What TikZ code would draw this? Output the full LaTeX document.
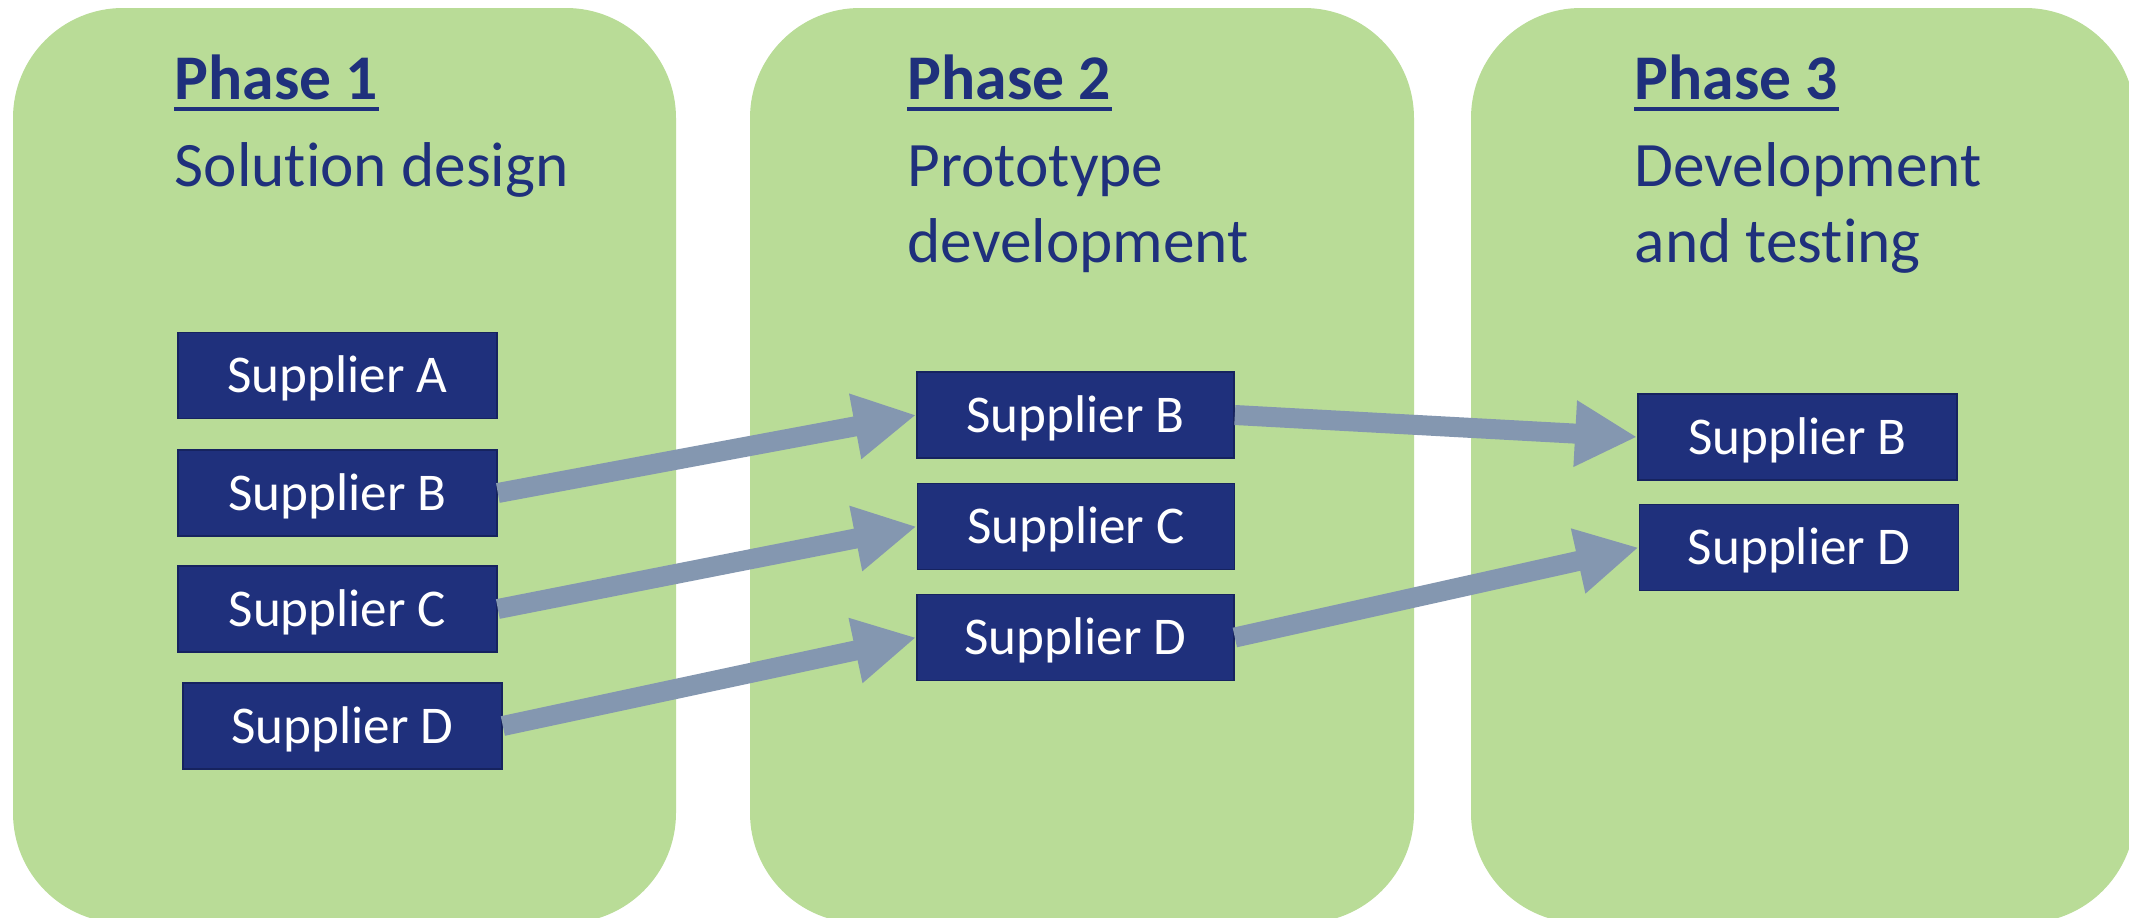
\documentclass[tikz,border=0pt]{standalone}
\usepackage{fontspec}
\setmainfont{Carlito}[Ligatures=NoCommon]
\usetikzlibrary{arrows.meta}
\definecolor{panelgreen}{RGB}{185,220,151}
\definecolor{navy}{RGB}{31,48,124}
\definecolor{navyedge}{RGB}{22,35,95}
\definecolor{arrowgrey}{RGB}{132,151,176}

\begin{document}
\begin{tikzpicture}[x=0.01cm,y=-0.01cm,
  panel/.style={fill=panelgreen, rounded corners=1.1cm},
  title/.style={anchor=base west, inner sep=0pt, text=navy, font=\fontsize{18.1}{22}\selectfont\bfseries},
  body/.style={anchor=base west, inner sep=0pt, text=navy, font=\fontsize{18}{22}\selectfont},
  supplier/.style={fill=navy, draw=navyedge, line width=0.015cm, text=white,
    minimum height=0.86cm, minimum width=3.19cm, inner sep=0pt,
    font=\fontsize{15.1}{18}\selectfont, text height=0.34cm, text depth=0pt},
  flow/.style={draw=arrowgrey, line width=0.2cm, -{Triangle[length=0.62cm,width=0.62cm]}, fill=arrowgrey},
  uline/.style={navy, line width=0.035cm}
]
\path[use as bounding box] (0,0) rectangle (2129,918);
\clip (0,0) rectangle (2129,918);
\fill[white] (0,0) rectangle (2129,918);

% phase panels
\fill[panel] (13,8) rectangle (676,923);
\fill[panel] (750,8) rectangle (1414,923);
\fill[panel] (1471,8) rectangle (2135,923);

% headings
\node[title] (t1) at (174,100) {Phase 1};
\draw[uline] ([yshift=-0.09cm]t1.base west) -- ([yshift=-0.09cm]t1.base east);
\node[body] (t1a) at (174,186) {Solution design};

\node[title] (t2) at (907,100) {Phase 2};
\draw[uline] ([yshift=-0.09cm]t2.base west) -- ([yshift=-0.09cm]t2.base east);
\node[body] (t2a) at (907,186) {Prototype};
\node[body] (t2b) at (907,262) {development};

\node[title] (t3) at (1634,100) {Phase 3};
\draw[uline] ([yshift=-0.09cm]t3.base west) -- ([yshift=-0.09cm]t3.base east);
\node[body] (t3a) at (1634,186) {Development};
\node[body] (t3b) at (1634,262) {and testing};

% suppliers per phase
\node[supplier] (a1) at (337.5,375.5) {Supplier A};
\node[supplier] (b1) at (337.5,493) {Supplier B};
\node[supplier] (c1) at (337.5,609) {Supplier C};
\node[supplier] (d1) at (342.5,726) {Supplier D};

\node[supplier, minimum width=3.17cm] (b2) at (1075.5,415) {Supplier B};
\node[supplier, minimum width=3.17cm] (c2) at (1076,526.5) {Supplier C};
\node[supplier, minimum width=3.17cm] (d2) at (1075.5,637.5) {Supplier D};

\node[supplier] (b3) at (1797.5,437) {Supplier B};
\node[supplier] (d3) at (1799,547.5) {Supplier D};

% transitions between phases
\draw[flow] (b1.east) -- (b2.west);
\draw[flow] (c1.east) -- (c2.west);
\draw[flow] (d1.east) -- (d2.west);
\draw[flow] (b2.east) -- (b3.west);
\draw[flow] (d2.east) -- (d3.west);
\end{tikzpicture}
\end{document}
